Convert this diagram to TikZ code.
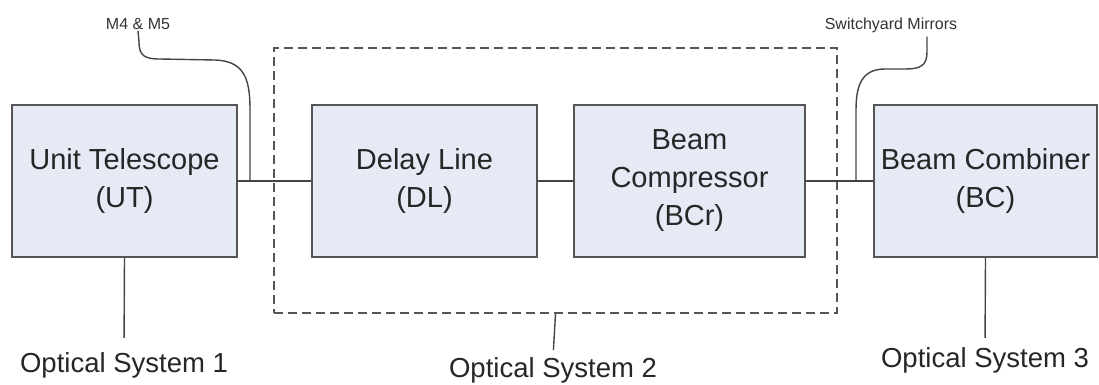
\documentclass[tikz,border=0pt]{standalone}
\usepackage{fontspec}
\setmainfont{Liberation Sans}
\definecolor{boxfill}{HTML}{E6EAF5}
\definecolor{boxline}{HTML}{555555}
\definecolor{wiregray}{HTML}{444444}
\tikzset{unit/.style={rectangle, draw=boxline, fill=boxfill, line width=1.8pt, minimum height=152pt, inner sep=3pt, align=center, text=black!85, font=\fontsize{29}{38}\selectfont},
	wire/.style={draw=wiregray, line width=1.4pt},
	group/.style={rectangle, draw=boxline, line width=1.8pt, dash pattern=on 9pt off 5pt, minimum width=563pt, minimum height=265pt},
	tag/.style={inner sep=0pt, text=black!85, font=\fontsize{27.5}{32}\selectfont},
	note/.style={inner sep=1pt, text=black!80, font=\fontsize{16}{18}\selectfont}
}

\begin{document}
\begin{tikzpicture}[x=1pt,y=-1pt]
	\useasboundingbox (0,0) rectangle (1099,384);
	% optical system 2 frame
	\node[group] (osbox) at (555.5,180.5) {};
	% units
	\node[unit, minimum width=225pt] (ut) at (124.5,181) {Unit Telescope\\(UT)};
	\node[unit, minimum width=225pt] (dl) at (424.5,181) {Delay Line\\(DL)};
	\node[unit, minimum width=231pt] (bcr) at (689.5,181) {Beam\\Compressor\\(BCr)};
	\node[unit, minimum width=223pt] (bc) at (985.5,181) {Beam Combiner\\(BC)};
	\draw[wire] (ut.east) -- (dl.west);
	\draw[wire] (dl.east) -- (bcr.west);
	\draw[wire] (bcr.east) -- (bc.west);
	% system labels
	\node[tag] (os1) at (124,365) {Optical System 1};
	\node[tag] (os2) at (553,370) {Optical System 2};
	\node[tag] (os3) at (985,360) {Optical System 3};
	\draw[wire, shorten >=14pt] (ut.south) -- (os1.north);
	\draw[wire, shorten >=7pt] (osbox.south) -- (os2.north);
	\draw[wire, shorten >=9pt] (bc.south) -- (os3.north);
	% mirrors
	\node[note] (m45) at (138,24) {M4 \& M5};
	\node[note] (swm) at (891,25) {Switchyard Mirrors};
	\coordinate (m45end) at (250,181);
	\coordinate (swmend) at (856,181);
	\draw[wire] (m45.south) -- (139,42) .. controls (139,56) and (145,59) .. (160,59) -- (215,60) .. controls (245,61) and (250,80) .. (250,110) -- (m45end);
	\draw[wire] ([xshift=36pt,yshift=-3pt]swm.south) -- (927,52) .. controls (927,66) and (920,69) .. (905,69) -- (885,69) .. controls (862,69) and (856,85) .. (856,110) -- (swmend);
\end{tikzpicture}
\end{document}
